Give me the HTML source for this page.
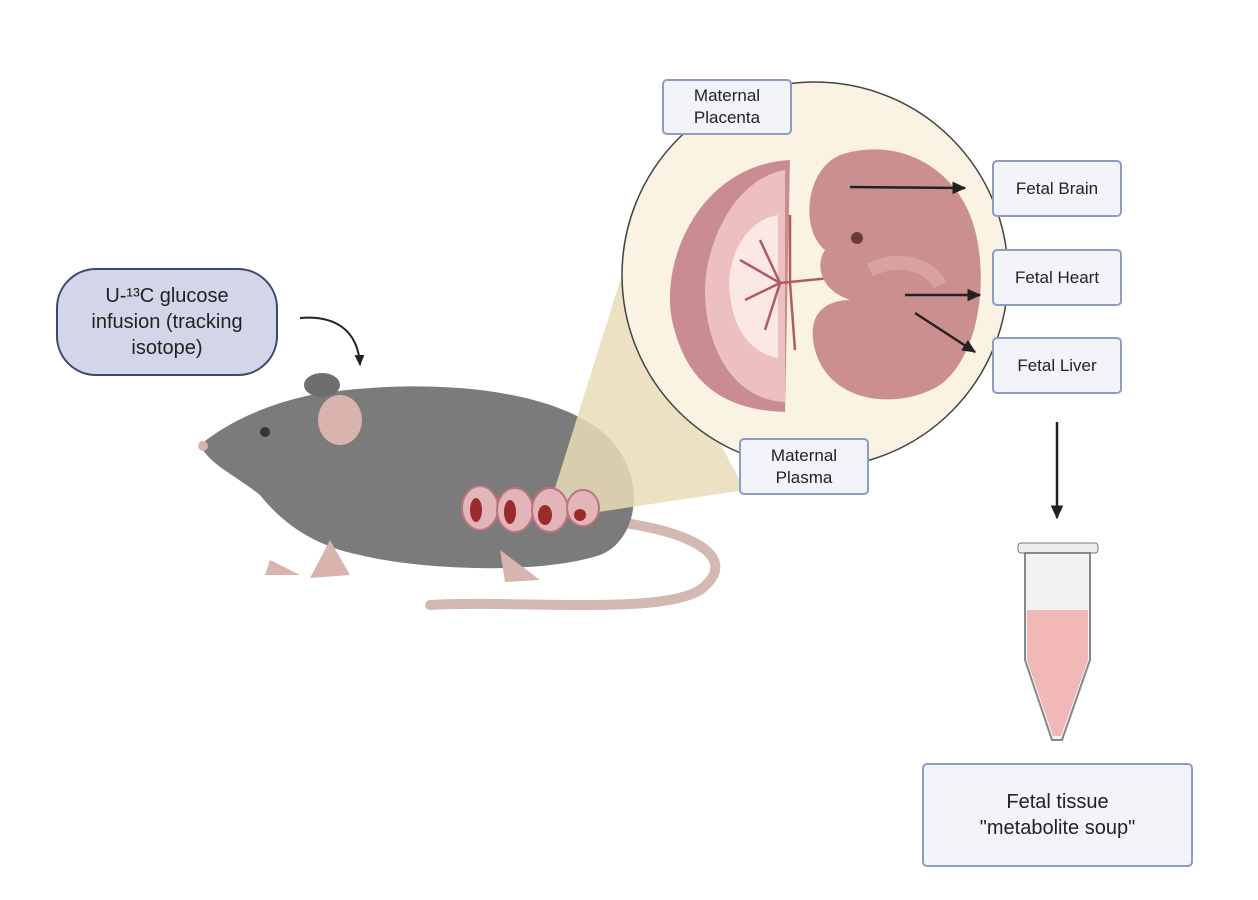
<!DOCTYPE html>
<html><head><meta charset="utf-8"><style>
body{margin:0;background:#fff;width:1258px;height:900px;overflow:hidden;font-family:"Liberation Sans",sans-serif}
svg{position:absolute;left:0;top:0}
.b{position:absolute;background:#f3f4fa;border:2px solid #8e9cc4;border-radius:5px;display:flex;align-items:center;justify-content:center;text-align:center;font-size:17px;color:#222;line-height:22px;box-sizing:border-box}
</style></head><body>
<svg width="1258" height="900" viewBox="0 0 1258 900">
<defs><marker id="a" markerWidth="6" markerHeight="6" refX="5" refY="3" orient="auto"><path d="M0,0.5 L5.5,3 L0,5.5 z" fill="#222"/></marker></defs>
<path d="M600,520 C700,530 740,560 700,590 C660,615 520,600 430,605" stroke="#d4b9b3" stroke-width="10" fill="none" stroke-linecap="round"/>
<path d="M200,445 C230,420 280,398 330,392 C420,380 540,385 600,430 C650,470 640,540 600,555 C540,575 420,570 360,555 C310,545 280,520 260,495 C235,475 210,465 200,445 z" fill="#7b7b7b"/>
<ellipse cx="322" cy="385" rx="18" ry="12" fill="#6e6e6e"/>
<ellipse cx="340" cy="420" rx="22" ry="25" fill="#d9b3ad"/>
<circle cx="265" cy="432" r="5" fill="#333"/>
<circle cx="203" cy="446" r="5" fill="#d9b3ad"/>
<path d="M270,560 L300,575 L265,575 z M330,540 L350,575 L310,578 z M500,550 L540,580 L505,582 z" fill="#d9b3ad"/>
<path d="M545,520 L625,265 L745,490 z" fill="#eadcb8" opacity="0.85"/>
<g fill="#e2b5b8" stroke="#b9757c" stroke-width="2">
<ellipse cx="480" cy="508" rx="18" ry="22"/><ellipse cx="515" cy="510" rx="18" ry="22"/><ellipse cx="550" cy="510" rx="18" ry="22"/><ellipse cx="583" cy="508" rx="16" ry="18"/></g>
<g fill="#9b2a2a"><ellipse cx="476" cy="510" rx="6" ry="12"/><ellipse cx="510" cy="512" rx="6" ry="12"/><ellipse cx="545" cy="515" rx="7" ry="10"/><ellipse cx="580" cy="515" rx="6" ry="6"/></g>
<circle cx="815" cy="275" r="193" fill="#faf3e3" stroke="#444" stroke-width="1.5"/>
<path d="M790,160 C700,165 660,260 672,320 C685,380 720,410 785,412 z" fill="#c98d91"/>
<path d="M785,170 C730,180 705,250 705,290 C705,350 735,400 785,402 z" fill="#ecc0c0"/>
<path d="M778,215 C745,220 725,260 730,295 C735,340 760,355 778,358 z" fill="#fbe8e4"/>
<g stroke="#b15a5f" stroke-width="2.5" fill="none"><path d="M830,278 L780,283 L740,260 M780,283 L745,300 M780,283 L760,240 M780,283 L765,330 M790,283 L790,215 M790,283 L795,350"/></g>
<path d="M840,155 C900,135 960,170 975,230 C990,290 975,360 940,385 C900,410 830,405 815,350 C805,310 830,300 850,300 C820,290 815,265 825,250 C800,230 805,170 840,155 z" fill="#cc8f90"/>
<path d="M870,270 C900,255 930,265 940,285" stroke="#d9a2a2" stroke-width="14" fill="none"/>
<circle cx="857" cy="238" r="6" fill="#6b3b3b"/>
<g stroke="#222" stroke-width="2.5" marker-end="url(#a)">
<line x1="850" y1="187" x2="965" y2="188"/>
<line x1="905" y1="295" x2="980" y2="295"/>
<line x1="915" y1="313" x2="975" y2="352"/>
<line x1="1057" y1="422" x2="1057" y2="518"/>
</g>
<path d="M300,318 C335,315 358,330 360,365" stroke="#222" stroke-width="2" fill="none" marker-end="url(#a)"/>
<rect x="1018" y="543" width="80" height="10" rx="3" fill="#eee" stroke="#777"/>
<path d="M1025,553 L1090,553 L1090,660 L1062,740 L1052,740 L1025,660 z" fill="#f2f2f2" stroke="#888" stroke-width="2"/>
<path d="M1027,610 L1088,610 L1088,660 L1061,736 L1053,736 L1027,660 z" fill="#f2b8b8"/>
</svg>
<div class="b" style="left:56px;top:268px;width:222px;height:108px;border-radius:40px;background:#d2d6e8;border-color:#3d4670;font-size:20px;line-height:26px">U-¹³C glucose<br>infusion (tracking<br>isotope)</div>
<div class="b" style="left:662px;top:79px;width:130px;height:56px">Maternal<br>Placenta</div>
<div class="b" style="left:739px;top:438px;width:130px;height:57px">Maternal<br>Plasma</div>
<div class="b" style="left:992px;top:160px;width:130px;height:57px">Fetal Brain</div>
<div class="b" style="left:992px;top:249px;width:130px;height:57px">Fetal Heart</div>
<div class="b" style="left:992px;top:337px;width:130px;height:57px">Fetal Liver</div>
<div class="b" style="left:922px;top:763px;width:271px;height:104px;font-size:20px;line-height:26px">Fetal tissue<br>"metabolite soup"</div>
</body></html>
